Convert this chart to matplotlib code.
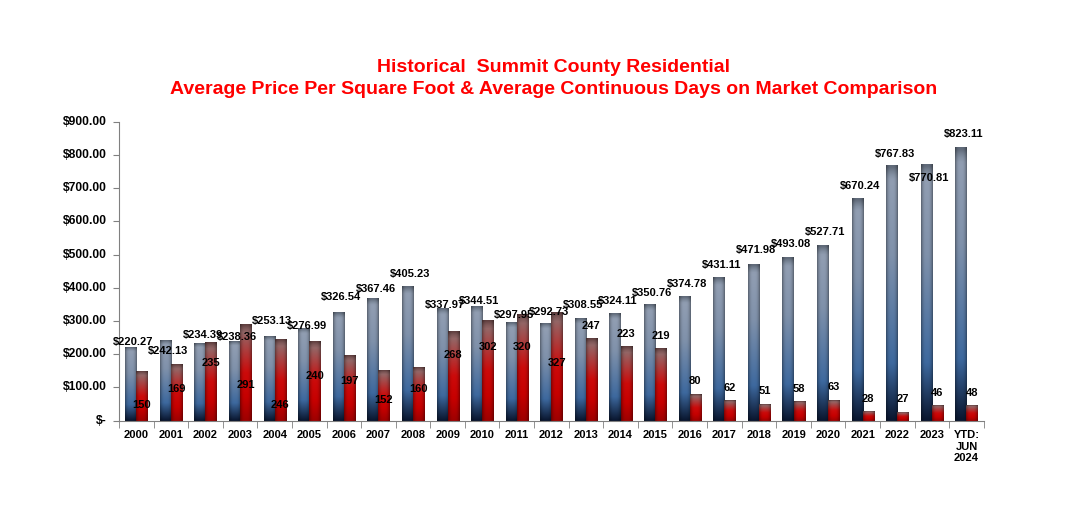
import matplotlib
matplotlib.use('Agg')
import matplotlib.pyplot as plt
import numpy as np

plt.rcParams['font.family'] = ['Liberation Sans', 'DejaVu Sans']

# Data
years = ['2000', '2001', '2002', '2003', '2004', '2005', '2006', '2007', '2008',
         '2009', '2010', '2011', '2012', '2013', '2014', '2015', '2016', '2017',
         '2018', '2019', '2020', '2021', '2022', '2023', 'YTD:\nJUN\n2024']
price_sqft = [220.27, 242.13, 234.39, 238.36, 253.13, 276.99, 326.54, 367.46,
              405.23, 337.97, 344.51, 297.95, 292.73, 308.55, 324.11, 350.76,
              374.78, 431.11, 471.98, 493.08, 527.71, 670.24, 767.83, 770.81,
              823.11]
days_on_market = [150, 169, 235, 291, 246, 240, 197, 152, 160, 268, 302, 320,
                  327, 247, 223, 219, 80, 62, 51, 58, 63, 28, 27, 46, 48]

# label placement (offset from bar top, in axis units) as in the reference
price_label_dy = [16, -32, 24, 14, 47, 8, 45, 29, 36, 10, 16, 19, 34, 39, 36,
                  33, 36, 38, 42, 39, 40, 37, 35, -41, 39]
days_label_dy = [-103, -74, -61, -183, -199, -105, -77, -90, -65, -70, -80,
                 -98, -153, 38, 38, 36, 40, 36, 38, 37, 38, 37, 38, 37, 35]

BLUE_STOPS = ([0.0, 0.025, 0.05, 0.35, 0.78, 1.0],
              [(0.38, 0.42, 0.48), (0.50, 0.55, 0.62), (0.57, 0.62, 0.70),
               (0.50, 0.57, 0.67), (0.24, 0.41, 0.62), (0.04, 0.09, 0.19)])
RED_STOPS = ([0.0, 0.04, 0.08, 0.5, 0.75, 1.0],
             [(0.38, 0.25, 0.25), (0.50, 0.35, 0.35), (0.58, 0.40, 0.40),
              (0.80, 0.04, 0.04), (0.78, 0.0, 0.0), (0.62, 0.0, 0.0)])


def gradient_image(stops, n=64, m=16):
    pos, cols = stops
    t = np.linspace(0, 1, n)
    cols = np.array(cols)
    rgb = np.stack([np.interp(t, pos, cols[:, c]) for c in range(3)], axis=1)
    u = np.linspace(-1, 1, m)
    shade = 1 - 0.35 * np.abs(u) ** 3
    img = rgb[:, None, :] * shade[None, :, None]
    return np.clip(img, 0, 1)


def gradient_bar(ax, x, width, height, img):
    ax.imshow(img, extent=(x - width / 2, x + width / 2, 0, height),
              aspect='auto', origin='upper', zorder=2, interpolation='bilinear')


fig = plt.figure(figsize=(10.67, 5.16), dpi=100)
ax = fig.add_axes([0.1115, 0.1847, 0.8105, 0.5794])

x = np.arange(len(years))
w = 0.32
blue_img = gradient_image(BLUE_STOPS)
red_img = gradient_image(RED_STOPS)

for i in x:
    gradient_bar(ax, i - w / 2, w, price_sqft[i], blue_img)
    gradient_bar(ax, i + w / 2, w, days_on_market[i], red_img)
    ax.text(i - 0.08, price_sqft[i] + price_label_dy[i], f'${price_sqft[i]:.2f}',
            ha='center', va='center', fontsize=8, fontweight='bold', zorder=5)
    ax.text(i + w / 2, days_on_market[i] + days_label_dy[i], f'{days_on_market[i]}',
            ha='center', va='center', fontsize=8, fontweight='bold', zorder=5)

ax.set_xlim(-0.5, len(years) - 0.5)
ax.set_ylim(0, 900)

ax.set_yticks(np.arange(0, 901, 100))
ax.set_yticklabels(['$-'] + [f'${v:.2f}' for v in np.arange(100, 901, 100)])
ax.set_xticks(x)
ax.set_xticklabels(years, linespacing=1.15)
ax.set_xticks(np.arange(-0.5, len(years), 1), minor=True)
ax.tick_params(axis='x', which='major', length=0, pad=7)
ax.tick_params(axis='x', which='minor', length=5, color='#808080')
ax.tick_params(axis='y', length=4, color='#808080', pad=5)
for lbl in ax.get_xticklabels():
    lbl.set_fontweight('bold')
    lbl.set_fontsize(8)
    lbl.set_va('top')
for lbl in ax.get_yticklabels():
    lbl.set_fontweight('bold')
    lbl.set_fontsize(8.7)
    lbl.set_va('center')

for side in ['top', 'right']:
    ax.spines[side].set_visible(False)
for side in ['left', 'bottom']:
    ax.spines[side].set_color('#808080')

fig.text(0.519, 0.870, 'Historical  Summit County Residential',
         ha='center', va='center', color='#FF0000', fontsize=14, fontweight='bold')
fig.text(0.519, 0.827,
         'Average Price Per Square Foot & Average Continuous Days on Market Comparison',
         ha='center', va='center', color='#FF0000', fontsize=14, fontweight='bold')

fig.savefig('out.png', dpi=100)
